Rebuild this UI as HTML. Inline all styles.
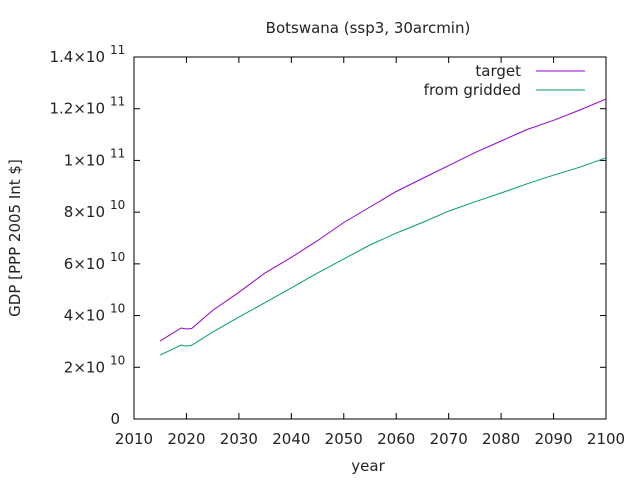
<!DOCTYPE html>
<html><head><meta charset="utf-8"><style>
html,body{margin:0;padding:0;background:#fff;}
svg{display:block;font-family:"DejaVu Sans","Liberation Sans",sans-serif;}
</style></head><body>
<svg id="chart" width="640" height="480" viewBox="0 0 640 480">
<rect width="640" height="480" fill="#fff"/>
<text x="368" y="33" font-size="15" text-anchor="middle" fill="#222">Botswana (ssp3, 30arcmin)</text>
<text x="368" y="471" font-size="15" text-anchor="middle" fill="#222">year</text>
<text transform="translate(20,238) rotate(-90)" font-size="15" text-anchor="middle" fill="#222">GDP [PPP 2005 Int $]</text>
<g id="axes"></g>
<g id="series"></g>
<g>
<text x="521" y="76" font-size="15" text-anchor="end" fill="#222">target</text>
<line x1="536" y1="71" x2="585" y2="71" stroke="#9400d3" stroke-width="1"/>
<text x="521" y="95" font-size="15" text-anchor="end" fill="#222">from gridded</text>
<line x1="536" y1="90" x2="585" y2="90" stroke="#009e73" stroke-width="1"/>
</g>
</svg>
<script>
const years = [2015,2019,2020,2021,2025,2030,2035,2040,2045,2050,2055,2060,2065,2070,2075,2080,2085,2090,2095,2100];
const targetVals = [3.02,3.52,3.48,3.5,4.2,4.9,5.65,6.25,6.9,7.6,8.2,8.8,9.3,9.8,10.3,10.75,11.2,11.55,11.95,12.37];
const griddedVals = [2.47,2.86,2.82,2.85,3.36,3.94,4.5,5.07,5.65,6.19,6.73,7.19,7.6,8.04,8.4,8.74,9.1,9.43,9.74,10.1];
const xTicks = [2010,2020,2030,2040,2050,2060,2070,2080,2090,2100];
const yTicks = [0,2,4,6,8,10,12,14];
const yMant = ["0","2","4","6","8","1","1.2","1.4"];
const yExp = ["","10","10","10","10","11","11","11"];

const L=134,R=606,T=57,B=419;
const xs=v=>L+(v-2010)/(2100-2010)*(R-L);
const ys=v=>B-v/14*(B-T);
const NS="http://www.w3.org/2000/svg";
function mk(tag,attrs,parent){const e=document.createElementNS(NS,tag);for(const k in attrs)e.setAttribute(k,attrs[k]);parent.appendChild(e);return e;}
const axes=document.getElementById('axes');
const frame=mk('rect',{x:L,y:T,width:R-L,height:B-T,fill:'none',stroke:'#000','stroke-width':1},axes);


xTicks.forEach(t=>{
  const x=xs(t);
  const g=mk('g',{},axes);
  
  
  mk('line',{x1:x,y1:B,x2:x,y2:B-6,stroke:'#000'},g);
  mk('line',{x1:x,y1:T,x2:x,y2:T+6,stroke:'#000'},g);
  const tx=mk('text',{x:x,y:B+25,'font-size':15,'text-anchor':'middle',fill:'#222'},g);
  tx.textContent=t;
});
yTicks.forEach((t,i)=>{
  const y=ys(t);
  const g=mk('g',{},axes);
  
  
  mk('line',{x1:L,y1:y,x2:L+6,y2:y,stroke:'#000'},g);
  mk('line',{x1:R,y1:y,x2:R-6,y2:y,stroke:'#000'},g);
  if(yExp[i]){
    const tx=mk('text',{x:105,y:y+5,'font-size':15,'text-anchor':'end',fill:'#222'},g);
    tx.textContent=yMant[i]+'\u00d710';
    const ex=mk('text',{x:110,y:y-3,'font-size':12,fill:'#222'},g);
    ex.textContent=yExp[i];
  } else {
    const tx=mk('text',{x:120,y:y+5,'font-size':15,'text-anchor':'end',fill:'#222'},g);
    tx.textContent=yMant[i];
  }
});
const ser=document.getElementById('series');
function line(vals,color,name){
  const d=years.map((yr,i)=>(i?'L':'M')+xs(yr).toFixed(1)+','+ys(vals[i]).toFixed(1)).join('');
  const p=mk('path',{d:d,fill:'none',stroke:color,'stroke-width':1},ser);
  
  
}
line(targetVals,'#9400d3','series-target');
line(griddedVals,'#009e73','series-from-gridded');
</script>
</body></html>
